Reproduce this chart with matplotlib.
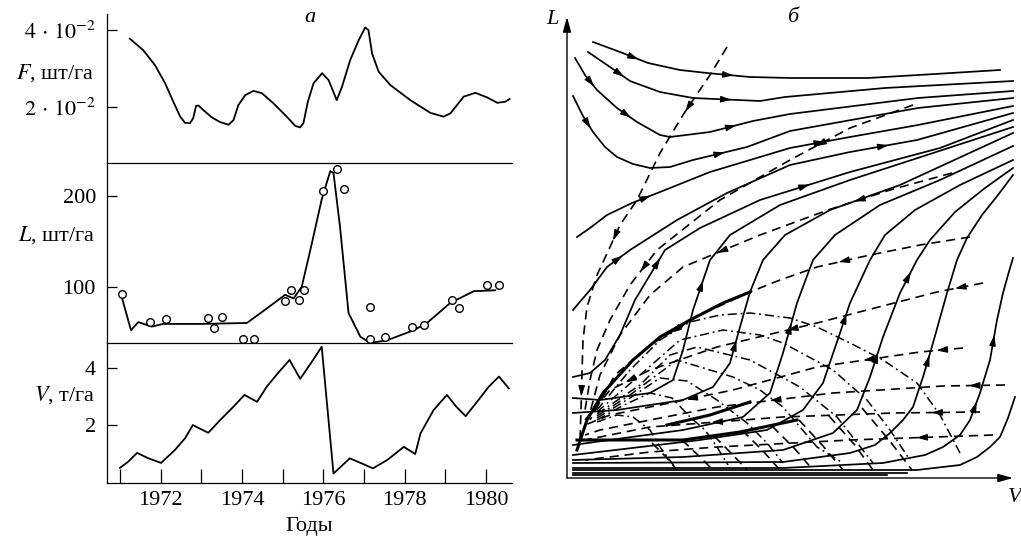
import matplotlib
matplotlib.use("Agg")
import matplotlib.pyplot as plt
import numpy as np

plt.rcParams['font.family'] = ['Liberation Serif', 'DejaVu Serif']
plt.rcParams['mathtext.fontset'] = 'stix'

""" Data, panel a """
f_year = [1971.24, 1971.57, 1971.86, 1972.11, 1972.31, 1972.48, 1972.60, 1972.72, 1972.80, 1972.87,
          1972.93, 1973.05, 1973.26, 1973.46, 1973.67, 1973.79, 1973.91, 1974.08, 1974.28, 1974.49,
          1974.77, 1975.10, 1975.31, 1975.43, 1975.51, 1975.62, 1975.76, 1975.97, 1976.13, 1976.33,
          1976.46, 1976.66, 1976.87, 1977.03, 1977.11, 1977.20, 1977.36, 1977.65, 1978.14, 1978.63,
          1978.96, 1979.13, 1979.45, 1979.74, 1980.03, 1980.28, 1980.48, 1980.58]
f_val = [3.78, 3.48, 3.09, 2.62, 2.14, 1.75, 1.59, 1.58, 1.71, 2.03,
         2.04, 1.92, 1.73, 1.61, 1.54, 1.66, 2.05, 2.31, 2.42, 2.36,
         2.10, 1.75, 1.51, 1.47, 1.58, 2.14, 2.62, 2.88, 2.70, 2.18,
         2.53, 3.22, 3.74, 4.07, 4.00, 3.39, 2.92, 2.57, 2.18, 1.85,
         1.75, 1.84, 2.27, 2.37, 2.25, 2.11, 2.14, 2.21]  # x 1e-2

l_year = [1971.04, 1971.27, 1971.45, 1971.78, 1972.06, 1972.97, 1974.12, 1974.61, 1975.06, 1975.27,
          1975.47, 1975.72, 1975.96, 1976.17, 1976.25, 1976.41, 1976.62, 1976.91, 1977.15, 1977.57,
          1978.22, 1978.55, 1979.12, 1979.70, 1980.23]
l_val = [89, 52, 61, 56, 59, 59, 60, 76, 91, 87,
         100, 148, 196, 227, 225, 166, 71, 45, 38, 41,
         52, 60, 82, 95, 96]

lobs_year = [1971.04, 1971.74, 1972.13, 1973.16, 1973.32, 1973.50, 1974.02, 1974.30, 1975.06, 1975.20,
             1975.40, 1975.53, 1976.00, 1976.33, 1976.50, 1977.14, 1977.14, 1977.52, 1978.18, 1978.47,
             1979.17, 1979.33, 1980.03, 1980.32]
lobs_val = [92, 61, 64, 66, 55, 67, 42, 42, 84, 96,
            85, 96, 205, 229, 207, 78, 42, 45, 56, 58,
            85, 77, 102, 102]

v_year = [1971.00, 1971.20, 1971.42, 1971.70, 1972.01, 1972.35, 1972.60, 1972.79, 1973.17, 1973.46,
          1973.79, 1974.06, 1974.37, 1974.61, 1974.86, 1975.17, 1975.43, 1975.72, 1975.96, 1976.25,
          1976.65, 1976.95, 1977.22, 1977.57, 1977.98, 1978.26, 1978.39, 1978.71, 1979.04, 1979.27,
          1979.50, 1979.78, 1980.07, 1980.32, 1980.56]
v_val = [0.51, 0.72, 1.03, 0.84, 0.68, 1.13, 1.54, 2.00, 1.73, 2.17,
         2.64, 3.05, 2.81, 3.34, 3.77, 4.27, 3.61, 4.21, 4.73, 0.31,
         0.84, 0.66, 0.49, 0.78, 1.24, 0.99, 1.71, 2.52, 3.05, 2.64,
         2.31, 2.81, 3.34, 3.69, 3.28]

year_major = [1972, 1974, 1976, 1978, 1980]
year_minor = [1971, 1973, 1975, 1977, 1979]

""" Data, panel b (phase portrait, arbitrary units V, L) """
# solid trajectories: (points, arrow segments)
top_curves = [
    ([(26, 436), (53, 426), (81, 415), (113, 408), (140, 405), (183, 401), (223, 400), (301, 400), (368, 404), (433, 408)], [1, 4]),
    ([(21, 426), (43, 411), (63, 397), (93, 386), (126, 380), (193, 377), (218, 381), (318, 390), (446, 397)], [1, 4]),
    ([(8, 420), (18, 403), (30, 388), (50, 370), (70, 356), (93, 343), (103, 341), (143, 346), (186, 357), (223, 364), (351, 380), (446, 387)], [1, 3, 7]),
    ([(6, 382), (16, 362), (26, 346), (38, 331), (50, 321), (66, 314), (83, 310), (103, 311), (126, 318), (180, 331), (223, 347), (351, 370), (446, 380)], [1, 8]),
]
fan_curves = [
    ([(10, 241), (23, 250), (40, 263), (65, 275), (93, 286), (143, 306), (223, 330), (283, 341), (351, 353), (446, 372)], [3, 6]),
    ([(6, 168), (23, 188), (40, 211), (63, 228), (110, 258), (160, 285), (223, 313), (283, 326), (350, 338), (446, 365)], [2, 7]),
    ([(6, 101), (23, 105), (38, 118), (53, 143), (68, 178), (83, 203), (98, 228), (133, 250), (193, 278), (283, 306), (373, 330), (446, 358)], [5, 8]),
]
s_curves = [
    ([(6, 80), (33, 78), (83, 85), (106, 98), (116, 128), (126, 168), (143, 218), (163, 243), (213, 273), (283, 298), (446, 351)], [5]),
    ([(6, 65), (50, 68), (116, 78), (146, 91), (163, 115), (173, 151), (183, 186), (196, 218), (218, 243), (263, 268), (333, 293), (446, 345)], [4]),
    ([(6, 33), (116, 48), (176, 61), (203, 85), (216, 125), (230, 175), (246, 218), (268, 243), (313, 273), (373, 298), (446, 332)], [4]),
    ([(6, 23), (133, 38), (200, 48), (236, 68), (256, 95), (273, 145), (283, 175), (303, 218), (318, 243), (348, 268), (393, 293), (446, 318)], [5]),
    ([(6, 18), (116, 21), (216, 28), (266, 45), (290, 68), (303, 101), (316, 141), (333, 185), (350, 218), (363, 238), (388, 266), (418, 290), (446, 310)], [5, 7]),
    ([(6, 15), (216, 16), (283, 25), (308, 33), (323, 45), (336, 58), (346, 71), (356, 101), (366, 135), (380, 185), (390, 218), (400, 240), (415, 263), (431, 283), (446, 303)], [7]),
    ([(6, 10), (216, 10), (316, 15), (358, 23), (376, 31), (393, 43), (403, 58), (413, 85), (423, 118), (430, 158), (436, 185), (441, 203), (446, 220)], [6, 8]),
    ([(6, 8), (150, 8), (350, 8), (393, 13), (410, 21), (423, 31), (433, 41), (441, 60), (448, 81)], []),
]
base_lines = [
    [(6, 5), (340, 5)],
    [(6, 3), (320, 3)],
]
bold_curves = [
    [(10, 28), (20, 58), (36, 85), (66, 118), (93, 141), (123, 158), (156, 175), (183, 186)],
    [(10, 38), (116, 38), (173, 46), (230, 58)],
    [(100, 53), (143, 63), (183, 76)],
]
# dashed isoclines (listed in the direction of the arrows)
dashed_curves = [
    ([(160, 431), (143, 403), (126, 378), (116, 363), (93, 325), (70, 278), (53, 253), (43, 231), (30, 203), (20, 171), (16, 138), (15, 105), (14, 68), (13, 38)], [2, 6, 11]),
    ([(346, 373), (283, 350), (223, 318), (153, 278), (90, 228), (63, 193), (43, 158), (30, 128), (23, 98), (18, 68)], [1, 4]),
    ([(385, 305), (323, 288), (261, 268), (193, 243), (116, 211), (83, 183), (53, 143), (33, 103), (21, 58)], [1, 3]),
    ([(403, 241), (353, 233), (303, 223), (250, 211), (213, 198), (183, 186), (133, 163), (83, 133), (48, 103), (23, 58)], [2, 6]),
    ([(416, 195), (370, 186), (300, 168), (250, 155), (200, 143), (150, 131), (83, 108), (43, 88), (18, 58)], [0, 3, 6]),
    ([(396, 130), (353, 126), (250, 111), (166, 88), (83, 71), (43, 63), (18, 53)], [0, 1, 3]),
    ([(438, 93), (376, 92), (266, 85), (150, 71), (83, 58), (33, 48), (18, 43)], [0, 2]),
    ([(413, 66), (326, 65), (216, 61), (83, 51), (18, 38)], [0, 2]),
    ([(426, 43), (283, 38), (150, 31), (83, 26), (18, 18)], [0]),
]
short_dashed = [
    [(85, 35), (100, 20), (110, 8)],
    [(115, 38), (132, 22), (146, 8)],
    [(147, 42), (165, 24), (180, 8)],
    [(175, 48), (196, 27), (213, 8)],
    [(205, 52), (228, 29), (246, 8)],
    [(232, 58), (256, 32), (276, 8)],
    [(262, 62), (287, 34), (306, 8)],
    [(295, 70), (322, 38), (345, 8)],
]
dashdot_curves = [
    [(30, 68), (63, 108), (93, 138), (123, 156), (153, 163), (183, 165), (223, 160), (250, 151), (283, 135), (316, 118), (350, 95), (373, 63), (393, 25)],
    [(30, 66), (73, 103), (113, 138), (156, 148), (193, 143), (216, 135), (266, 108), (300, 78), (323, 48), (343, 18)],
    [(30, 64), (73, 93), (103, 123), (130, 131), (183, 118), (233, 91), (270, 61), (306, 15)],
    [(30, 62), (63, 83), (110, 118), (143, 108), (166, 101), (193, 88), (216, 71), (250, 31), (276, 15)],
    [(30, 60), (63, 80), (93, 100), (120, 97), (150, 78), (180, 55), (200, 35), (216, 15)],
    [(30, 58), (55, 72), (83, 85), (105, 80), (123, 61), (138, 48), (150, 31), (161, 13)],
    [(30, 56), (50, 63), (66, 61), (83, 48), (93, 31), (110, 8)],
]

""" Figure """
W, H = 1021, 536
fig = plt.figure(figsize=(W / 100, H / 100), dpi=100)
axF = fig.add_axes([107 / W, 1 - 163 / H, 405 / W, 149 / H])
axL = fig.add_axes([107 / W, 1 - 343 / H, 405 / W, 180 / H])
axV = fig.add_axes([107 / W, 1 - 483 / H, 405 / W, 140 / H])

fs = 16
for ax in (axF, axL, axV):
    ax.spines['top'].set_visible(False)
    ax.spines['right'].set_visible(False)
    ax.spines['left'].set_linewidth(0.9)
    ax.spines['bottom'].set_linewidth(0.9)
    ax.set_xlim(1970.68, 1980.64)
    ax.tick_params(axis='y', direction='in', length=7, width=0.9, labelsize=fs, pad=8)
    ax.patch.set_alpha(0)
for ax in (axF, axL):
    ax.tick_params(axis='x', bottom=False, labelbottom=False)

axF.plot(f_year, [v * 1e-2 for v in f_val], color='k', lw=1.3)
axF.set_ylim(0.00545, 0.0442)
axF.set_yticks([0.02, 0.04])
axF.set_yticklabels([r'$2\,\cdot\,10^{-2}$', r'$4\,\cdot\,10^{-2}$'])

axL.plot(l_year, l_val, color='k', lw=1.3)
axL.plot(lobs_year, lobs_val, 'o', mfc='white', mec='k', mew=1.0, ms=5.5, clip_on=False)
axL.set_ylim(38, 236)
axL.set_yticks([100, 200])

axV.plot(v_year, v_val, color='k', lw=1.3)
axV.set_ylim(-0.02, 4.86)
axV.set_yticks([2, 4])
axV.set_xticks(year_major)
axV.set_xticks(year_minor, minor=True)
axV.tick_params(axis='x', which='both', direction='in', length=10, width=0.9, labelsize=fs, pad=6)

axF.text(-0.03, 0.604, r'$F$, шт/га', transform=axF.transAxes, ha='right', va='center', fontsize=fs)
axL.text(-0.03, 0.6, r'$L$, шт/га', transform=axL.transAxes, ha='right', va='center', fontsize=fs)
axV.text(-0.03, 0.629, r'$V$, т/га', transform=axV.transAxes, ha='right', va='center', fontsize=fs)
axV.set_xlabel('Годы', fontsize=fs, labelpad=5)
fig.text(310 / W, 1 - 18 / H, 'а', style='italic', fontsize=fs, ha='center', va='center')

""" Phase portrait """
axP = fig.add_axes([567 / W, 1 - 478 / H, 452 / W, 461 / H])
axP.set_xlim(0, 452)
axP.set_ylim(0, 461)
axP.axis('off')

arrow_style = '-|>,head_length=0.65,head_width=0.2'


def draw(pts, ls='-', lw=1.25, arrows=()):
    xs = [p[0] for p in pts]
    ys = [p[1] for p in pts]
    axP.plot(xs, ys, color='k', lw=lw, linestyle=ls, clip_on=False)
    for s in arrows:
        x0, y0 = pts[s]
        x1, y1 = pts[s + 1]
        dx, dy = x1 - x0, y1 - y0
        n = np.hypot(dx, dy)
        ux, uy = dx / n, dy / n
        mx, my = (x0 + x1) / 2, (y0 + y1) / 2
        axP.annotate('', xy=(mx + ux * 5, my + uy * 5), xytext=(mx - ux * 5, my - uy * 5),
                     arrowprops=dict(arrowstyle=arrow_style, color='k', lw=0.8,
                                     shrinkA=0, shrinkB=0))


dash = (0, (5.5, 3.5))
dashdot = (0, (6, 2.5, 1.2, 2.5))
for pts, arr in top_curves + fan_curves + s_curves:
    draw(pts, arrows=arr)
for pts in base_lines:
    draw(pts)
for pts in bold_curves:
    draw(pts, lw=2.2)
for pts, arr in dashed_curves:
    draw(pts, ls=dash, lw=1.2, arrows=arr)
for pts in short_dashed:
    draw(pts, ls=dash, lw=1.2)
for pts in dashdot_curves:
    draw(pts, ls=dashdot, lw=1.1)

# axes with arrows
axP.annotate('', xy=(0, 461), xytext=(0, 0),
             arrowprops=dict(arrowstyle='-|>,head_length=0.9,head_width=0.25', color='k', lw=1.0,
                             shrinkA=0, shrinkB=0))
axP.annotate('', xy=(446, 0), xytext=(0, 0),
             arrowprops=dict(arrowstyle='-|>,head_length=0.9,head_width=0.25', color='k', lw=1.0,
                             shrinkA=0, shrinkB=0))
fig.text(552 / W, 1 - 20 / H, 'L', style='italic', fontsize=fs, ha='center', va='center')
fig.text(1015 / W, 1 - 498 / H, 'V', style='italic', fontsize=fs, ha='center', va='center')
fig.text(793 / W, 1 - 18 / H, 'б', style='italic', fontsize=fs, ha='center', va='center')

fig.savefig('out.png', dpi=100)
